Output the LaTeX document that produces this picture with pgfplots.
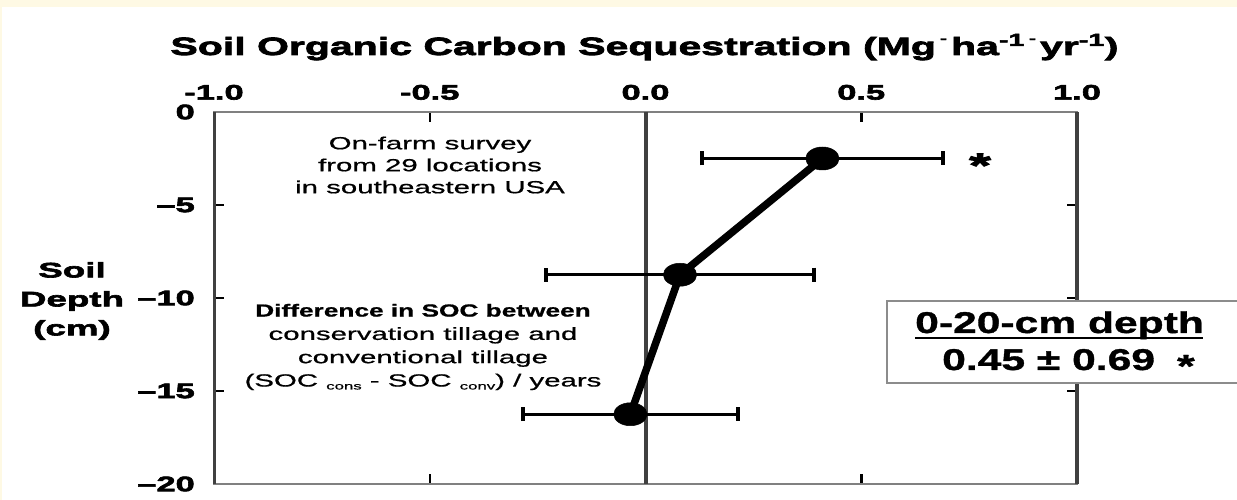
\documentclass[border=0pt]{standalone}
\usepackage{pgfplots}
\pgfplotsset{compat=1.18}
\usepackage{fontspec}
\setmainfont{Liberation Sans}
\newfontfamily\heavy[FakeStretch=1.64,FakeBold=3]{Liberation Sans Bold}
\newfontfamily\heavyw[FakeStretch=1.75,FakeBold=3]{Liberation Sans Bold}
\newfontfamily\reg[FakeStretch=1.68,FakeBold=0.8]{Liberation Sans}
\newfontfamily\regb[FakeStretch=1.5,FakeBold=1]{Liberation Sans Bold}
\newfontfamily\boxf[FakeStretch=1.42,FakeBold=1.2]{Liberation Sans Bold}
\definecolor{cream}{HTML}{FEF9E4}
\begin{document}
\begin{tikzpicture}
\fill[white] (0,0) rectangle (1237pt,500pt);
\fill[cream] (0,493pt) rectangle (1237pt,500pt);
\fill[cream] (0,0) rectangle (2pt,500pt);
\useasboundingbox (0,0) rectangle (1237pt,500pt);
\begin{axis}[
  at={(214pt,16pt)}, anchor=south west,
  scale only axis, width=863pt, height=372pt,
  xmin=-1, xmax=1, ymin=-20, ymax=0,
  axis line style={draw=black!50, line width=2pt},
  xtick={-1,-0.5,0,0.5,1},
  xticklabels={-1.0,-0.5,0.0,0.5,1.0},
  xticklabel pos=right,
  ytick={0,-5,-10,-15,-20},
  yticklabels={0,–5,–10,–15,–20},
  tick align=inside,
  major tick length=10pt,
  tick style={black, line width=2.5pt},
  xticklabel style={font=\heavy\fontsize{21}{21}\selectfont, anchor=south, inner sep=0pt, yshift=12pt},
  yticklabel style={font=\heavy\fontsize{21}{21}\selectfont, anchor=east, inner sep=0pt, xshift=-19pt},
  clip=false,
]
\draw[black!75, line width=3pt] (rel axis cs:0,0) -- (rel axis cs:0,1);
\draw[black!75, line width=4.5pt] (rel axis cs:1,0) -- (rel axis cs:1,1);
\addplot[black!75, line width=4pt, forget plot] coordinates {(0,0) (0,-20)};
\addplot[black, line width=7.5pt, line join=round,
  mark=*, mark size=11.5pt,
  mark options={solid, fill=black, draw=black, line width=0.5pt, xscale=1.45},
  error bars/.cd, x dir=both, x explicit,
  error bar style={line width=3pt, black},
  error mark options={black, line width=4pt, mark size=7pt, rotate=90}]
coordinates {
  (0.41,-2.5) +- (0.28,0)
  (0.08,-8.75) +- (0.31,0)
  (-0.035,-16.25) +- (0.25,0)
};
\end{axis}
% title
\node[anchor=base, inner sep=0pt] at (644.5pt,445pt)
  {\heavy\fontsize{25}{30}\selectfont Soil Organic Carbon Sequestration (Mg\,\raisebox{0.5em}{\scalebox{0.5}{-}}\,ha\textsuperscript{-1}\,\raisebox{0.5em}{\scalebox{0.5}{-}}\,yr\textsuperscript{-1})};
% y label
\node[align=center, inner sep=0pt, font=\heavyw\fontsize{21}{29}\selectfont] at (72pt,199pt) {Soil\\Depth\\(cm)};
% annotations
\node[align=center, inner sep=0pt, font=\reg\fontsize{17.5}{22}\selectfont] at (430pt,335pt)
  {On-farm survey\\from 29 locations\\in southeastern USA};
\node[align=center, inner sep=0pt, font=\reg\fontsize{17.5}{23.3}\selectfont] at (423pt,153pt)
  {{\regb Difference in SOC between}\\conservation tillage and\\conventional tillage\\(SOC \raisebox{-3pt}{\fontsize{10}{10}\selectfont cons} - SOC \raisebox{-3pt}{\fontsize{10}{10}\selectfont conv}) / years};
% asterisk
\node[anchor=base, inner sep=0pt, font=\heavy\fontsize{34}{34}\selectfont] at (980pt,323pt) {*};
% box
\draw[black!45, line width=2pt, fill=white] (887pt,117pt) rectangle (1245pt,199pt);
\node[anchor=base west, inner sep=0pt, font=\boxf\fontsize{30}{30}\selectfont] at (915pt,167pt) {0-20-cm depth};
\draw[black, line width=2.5pt] (915pt,162pt) -- (1203pt,162pt);
\node[anchor=base west, inner sep=0pt, font=\boxf\fontsize{30}{30}\selectfont] at (942pt,130pt) {0.45 ± 0.69\hspace{22pt}\raisebox{-7pt}{\fontsize{32}{32}\selectfont *}};
\end{tikzpicture}
\end{document}
